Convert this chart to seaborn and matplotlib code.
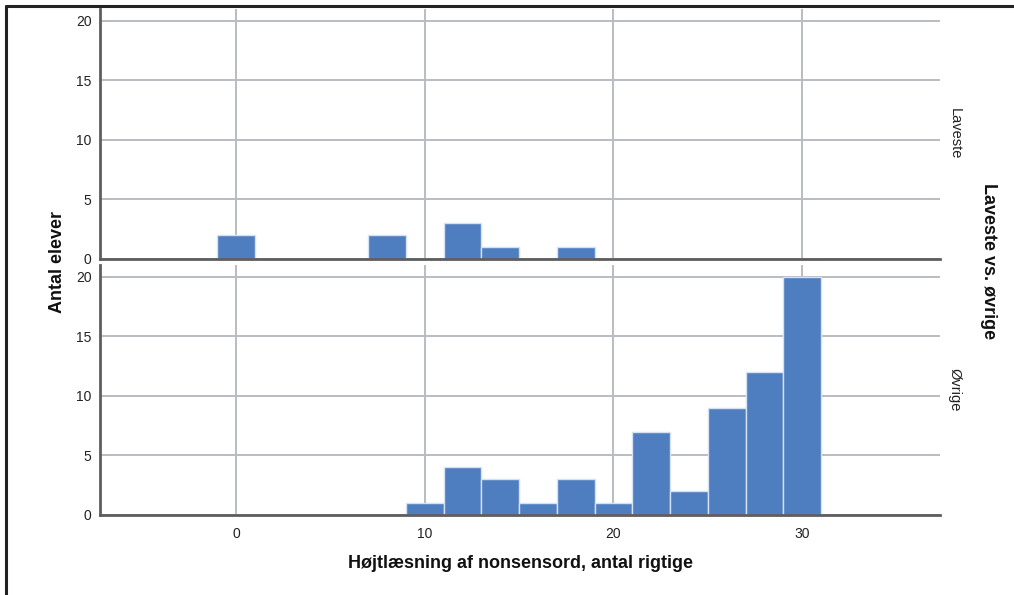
import matplotlib
matplotlib.use("Agg")
import matplotlib.pyplot as plt
import seaborn as sns
import numpy as np
import pandas as pd
from matplotlib.lines import Line2D

# ---- data ----
groups = ["Laveste", "Øvrige"]
laveste_scores = [0, 8, 12, 14, 18]
laveste_counts = [2, 2, 3, 1, 1]
ovrige_scores = [10, 12, 14, 16, 18, 20, 22, 24, 26, 28, 30]
ovrige_counts = [1, 4, 3, 1, 3, 1, 7, 2, 9, 12, 20]
x_ticks = [0, 10, 20, 30]
y_ticks = [0, 5, 10, 15, 20]

x_label = "Højtlæsning af nonsensord, antal rigtige"
y_label = "Antal elever"
row_title = "Laveste vs. øvrige"

sns.set_theme(style="white")
plt.rcParams["font.family"] = ["Liberation Sans", "DejaVu Sans"]

fig = plt.figure(figsize=(10.14, 5.95), dpi=100)
W, H = 1014, 595

def ax_rect(left, top, right, bottom):
    return [left / W, 1 - bottom / H, (right - left) / W, (bottom - top) / H]

ax_top = fig.add_axes(ax_rect(100, 9, 940, 259))
ax_bot = fig.add_axes(ax_rect(100, 265, 940, 515))

bar_color = "#4E7DC0"
edge_color = "#D6E2F3"
grid_color = "#B9BCC2"
spine_color = "#5E5E5E"

data = {
    "Laveste": (laveste_scores, laveste_counts),
    "Øvrige": (ovrige_scores, ovrige_counts),
}

for ax, g in zip([ax_top, ax_bot], groups):
    scores, counts = data[g]
    df = pd.DataFrame({"score": scores, "n": counts})
    sns.histplot(data=df, x="score", weights="n", binwidth=2, binrange=(-1, 31),
                 ax=ax, color=bar_color, alpha=1.0, edgecolor=edge_color,
                 linewidth=1.0, zorder=3)
    ax.set_xlim(-7.2, 37.3)
    ax.set_ylim(0, 21)
    ax.set_xticks(x_ticks)
    ax.set_yticks(y_ticks)
    ax.grid(True, color=grid_color, linewidth=1.4, zorder=0)
    ax.set_axisbelow(True)
    for s in ["top", "right"]:
        ax.spines[s].set_visible(False)
    for s in ["left", "bottom"]:
        ax.spines[s].set_color(spine_color)
        ax.spines[s].set_linewidth(2.0)
        ax.spines[s].set_zorder(4)
    ax.tick_params(axis="both", length=0, labelsize=10, colors="#222222")
    ax.tick_params(axis="x", pad=9)
    ax.tick_params(axis="y", pad=6)
    ax.set_xlabel("")
    ax.set_ylabel("")
    ax.text(1.017, 0.5, g, transform=ax.transAxes, rotation=-90,
            ha="center", va="center", fontsize=10.5, color="#222222")

ax_top.tick_params(axis="x", labelbottom=False)

fig.text(57 / W, 1 - 262 / H, y_label, rotation=90, ha="center", va="center",
         fontsize=13, fontweight="bold", color="#111111")
fig.text(520 / W, 1 - 563 / H, x_label, ha="center", va="center",
         fontsize=13, fontweight="bold", color="#111111")
fig.text(989 / W, 1 - 261 / H, row_title, rotation=-90, ha="center", va="center",
         fontsize=13, fontweight="bold", color="#111111")

# outer frame (top and left edges visible)
fig.add_artist(Line2D([6 / W, 6 / W], [0, 1 - 6 / H], transform=fig.transFigure,
                      color="#222222", linewidth=2.2))
fig.add_artist(Line2D([6 / W, 1], [1 - 6 / H, 1 - 6 / H], transform=fig.transFigure,
                      color="#222222", linewidth=2.2))

fig.savefig("out.png", dpi=100)
